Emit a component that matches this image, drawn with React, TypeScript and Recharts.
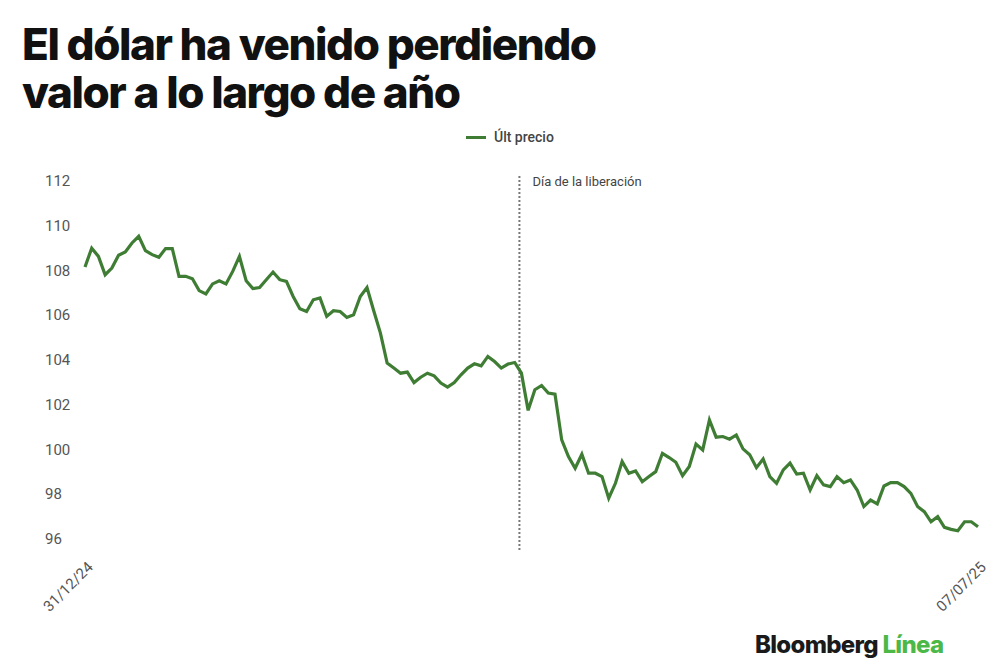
import { LineChart, Line, XAxis, YAxis, ReferenceLine } from "recharts";

// DXY closes, 31/12/24 -> 07/07/25
const precios = [
    108.16, 109.0, 108.63, 107.81, 108.11, 108.68, 108.83, 109.23, 109.53, 108.89,
    108.71, 108.59, 108.98, 108.98, 107.74, 107.74, 107.63, 107.1, 106.95, 107.4,
    107.54, 107.4, 107.96, 108.63, 107.54, 107.19, 107.24, 107.59, 107.93, 107.59,
    107.51, 106.84, 106.29, 106.17, 106.69, 106.77, 105.95, 106.2, 106.17, 105.9,
    106.02, 106.84, 107.24, 106.2, 105.2, 103.86, 103.64, 103.41, 103.46, 102.99,
    103.23, 103.41, 103.29, 102.97, 102.79, 102.99, 103.34, 103.64, 103.83, 103.74,
    104.16, 103.93, 103.64, 103.82, 103.89, 103.41, 101.75, 102.67, 102.86, 102.52,
    102.47, 100.43, 99.68, 99.16, 99.79, 98.94, 98.94, 98.79, 97.82, 98.49,
    99.46, 98.94, 99.04, 98.56, 98.79, 99.01, 99.83, 99.64, 99.43, 98.83,
    99.24, 100.24, 99.98, 101.32, 100.55, 100.58, 100.46, 100.65, 100.03, 99.76,
    99.19, 99.58, 98.79, 98.49, 99.09, 99.39, 98.9, 98.94, 98.19, 98.83,
    98.42, 98.34, 98.79, 98.52, 98.64, 98.19, 97.45, 97.74, 97.57, 98.37,
    98.52, 98.52, 98.34, 98.04, 97.45, 97.22, 96.77, 97.0, 96.52, 96.43,
    96.37, 96.77, 96.77, 96.55,
];

const xTickLabels = ["31/12/24", "07/07/25"];
const yTicks = [96, 98, 100, 102, 104, 106, 108, 110, 112];

// "Liberation day" (2 Apr) falls just before the 66th close
const diaLiberacion = 64.7;

const data = precios.map((p, i) => ({ i, precio: p }));
const lastIndex = precios.length - 1;

const GREEN = "#3f7d34";
const GRAY = "#555";

function YTick(props: any) {
    const { y, payload } = props;
    return (
        <text x={45} y={y} dy={5} fill={GRAY} fontSize={15} fontFamily="Roboto" textAnchor="start">
            {payload.value}
        </text>
    );
}

function XTick(props: any) {
    const { x, y, payload } = props;
    const label = payload.value === 0 ? xTickLabels[0] : xTickLabels[1];
    return (
        <g transform={`translate(${x + 9},${y + 10}) rotate(-45)`}>
            <text x={0} y={0} fill={GRAY} fontSize={15} fontFamily="Roboto" textAnchor="end">
                {label}
            </text>
        </g>
    );
}

function LiberacionLabel(props: any) {
    const { viewBox } = props;
    return (
        <text
            x={viewBox.x + 13}
            y={viewBox.y + 11}
            fill="#444"
            fontSize={13}
            fontFamily="Roboto"
        >
            Día de la liberación
        </text>
    );
}

export default function App() {
    return (
        <div
            style={{
                position: "absolute",
                top: 0,
                left: 0,
                width: 1000,
                height: 667,
                background: "#fff",
                overflow: "hidden",
            }}
        >
            <div
                style={{
                    position: "absolute",
                    left: 22,
                    top: 20,
                    fontFamily: "Inter",
                    fontWeight: 800,
                    fontSize: 44,
                    lineHeight: "48px",
                    letterSpacing: -1.45,
                    color: "#111",
                }}
            >
                El dólar ha venido perdiendo
                <br />
                valor a lo largo de año
            </div>

            {/* legend */}
            <div
                style={{
                    position: "absolute",
                    left: 466,
                    top: 129,
                    display: "flex",
                    alignItems: "center",
                    fontFamily: "Roboto",
                    fontWeight: 500,
                    fontSize: 14,
                    color: "#444",
                }}
            >
                <span style={{ display: "inline-block", width: 20, height: 3, background: GREEN, marginRight: 8 }} />
                Últ precio
            </div>

            <div style={{ position: "absolute", top: 0, left: 0 }}>
                <LineChart
                    width={1000}
                    height={667}
                    data={data}
                    margin={{ top: 175, right: 22, bottom: 57, left: 45 }}
                >
                    <XAxis
                        dataKey="i"
                        type="number"
                        domain={[0, lastIndex]}
                        ticks={[0, lastIndex]}
                        axisLine={false}
                        tickLine={false}
                        height={60}
                        tick={<XTick />}
                        interval={0}
                    />
                    <YAxis
                        type="number"
                        domain={[96, 112]}
                        ticks={yTicks}
                        axisLine={false}
                        tickLine={false}
                        width={40}
                        padding={{ top: 6, bottom: 11 }}
                        tick={<YTick />}
                        interval={0}
                    />
                    <ReferenceLine
                        x={diaLiberacion}
                        stroke="#777"
                        strokeWidth={2}
                        strokeDasharray="2 2"
                        label={<LiberacionLabel />}
                    />
                    <Line
                        type="linear"
                        dataKey="precio"
                        stroke={GREEN}
                        strokeWidth={3.2}
                        dot={false}
                        isAnimationActive={false}
                    />
                </LineChart>
            </div>

            {/* brand */}
            <div
                style={{
                    position: "absolute",
                    left: 755,
                    top: 630,
                    fontFamily: "Inter",
                    fontWeight: 800,
                    fontSize: 24,
                    letterSpacing: -0.7,
                    color: "#1a1a1a",
                }}
            >
                Bloomberg <span style={{ color: "#4cb848" }}>Línea</span>
            </div>
        </div>
    );
}
